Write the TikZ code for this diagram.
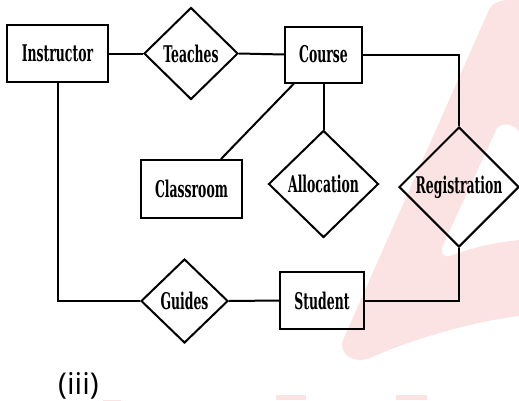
\documentclass[tikz,border=0pt]{standalone}
\usepackage{fontspec}
\usepackage{graphicx}
\usetikzlibrary{shapes.geometric}
\newfontfamily\erfont{DejaVu Serif Condensed}
\newfontfamily\capfont{Open Sans}
\newcommand\erlbl[1]{\scalebox{0.6}[1]{\erfont\bfseries\fontsize{23}{25}\selectfont #1}}
\definecolor{wmpink}{RGB}{251,227,228}
\tikzset{
  ent/.style={draw, line width=2pt, rectangle, inner sep=0pt},
  rel/.style={draw, line width=2pt, diamond, inner sep=0pt},
  conn/.style={line width=2pt},
}
\begin{document}
\begin{tikzpicture}[x=1pt,y=-1pt]
\useasboundingbox (0,0) rectangle (519,400);
% watermark
\fill[wmpink, even odd rule] (488,12) .. controls (492,2) and (500,0) .. (510,0) -- (519,0) -- (519,316)
  .. controls (470,322) and (410,340) .. (370,358) .. controls (355,364) and (338,355) .. (343,340) -- cycle
  (497,128) .. controls (502,122) and (515,124) .. (519,132) -- (519,240)
  .. controls (490,243) and (465,250) .. (450,256) .. controls (443,258) and (440,252) .. (443,245) -- cycle;
\fill[wmpink] (103,400) arc[start angle=180, end angle=0, radius=9];
\fill[wmpink] (276,395) rectangle (306,400);
\fill[wmpink] (396,395) rectangle (427,400);
% nodes
\node[ent, minimum width=101pt, minimum height=57pt] (instr) at (57.5,53.5) {\erlbl{Instructor}};
\node[rel, minimum width=94pt, minimum height=92pt] (teach) at (191,53.5) {\erlbl{Teaches}};
\node[ent, minimum width=77pt, minimum height=56pt] (course) at (323.5,54.5) {\erlbl{Course}};
\node[ent, minimum width=101pt, minimum height=58pt] (class) at (191.5,189) {\erlbl{Classroom}};
\node[rel, minimum width=110pt, minimum height=107pt] (alloc) at (323.5,184) {\erlbl{Allocation}};
\node[rel, minimum width=120pt, minimum height=120pt] (reg) at (459,187) {\erlbl{Registration}};
\node[rel, minimum width=87pt, minimum height=84pt] (guides) at (184.5,301) {\erlbl{Guides}};
\node[ent, minimum width=84pt, minimum height=57pt] (student) at (322,300.5) {\erlbl{Student}};
\node[anchor=south west, inner sep=0pt] (cap) at (58,399) {\capfont\fontsize{30}{32}\selectfont (iii)};
% connectors
\draw[conn] (instr.east) -- (teach.west);
\draw[conn] (teach.east) -- (course.west);
\draw[conn] (course.east) -| (reg.north);
\draw[conn] (course.south) -- (alloc.north);
\draw[conn] ([xshift=29.5pt]class.north) -- ([xshift=-29.5pt]course.south);
\draw[conn] (instr.south) |- (guides.west);
\draw[conn] (guides.east) -- (student.west);
\draw[conn] (student.east) -| (reg.south);
\end{tikzpicture}
\end{document}
